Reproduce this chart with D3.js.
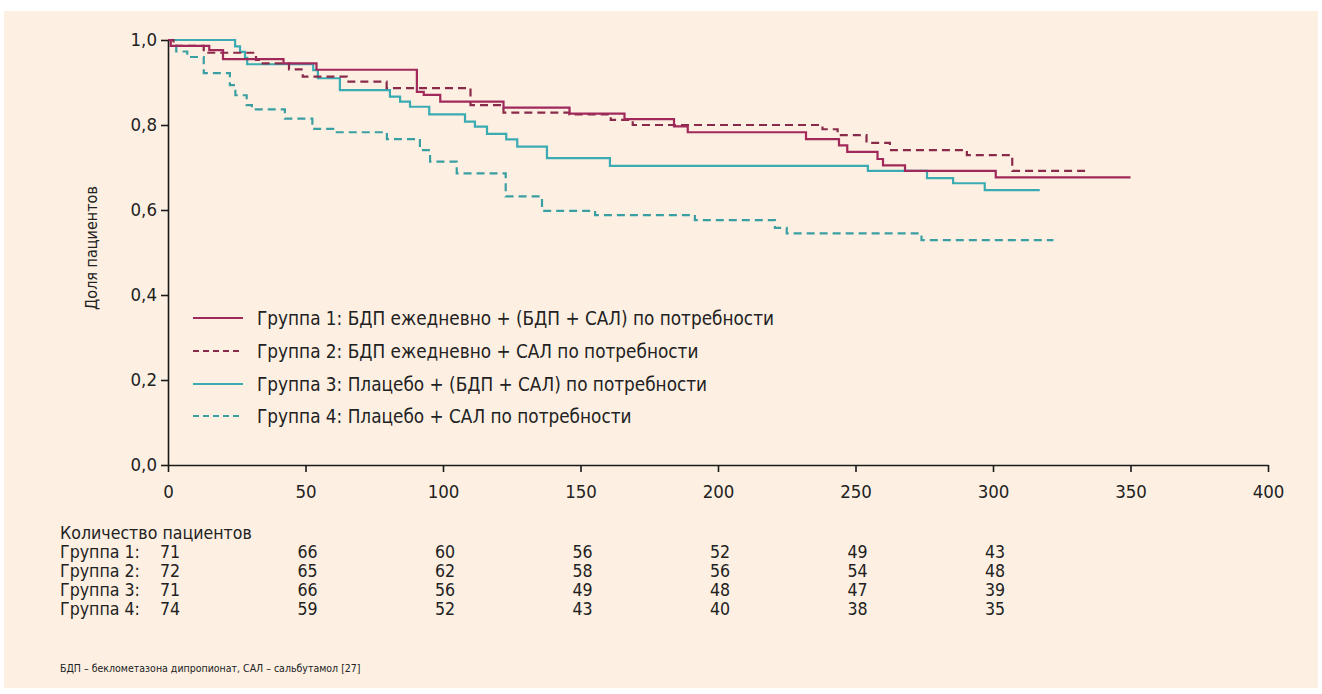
<!DOCTYPE html>
<html><head><meta charset="utf-8">
<script src="https://cdn.jsdelivr.net/npm/d3@7"></script>
<style>
html,body{margin:0;padding:0;background:#fff;}
svg text{font-family:"Liberation Sans Narrow","DejaVu Sans Condensed","Roboto Condensed","Roboto",sans-serif;font-stretch:condensed;fill:#222;}
</style></head>
<body>
<svg id="chart" width="1322" height="694"></svg>
<script>
// ---- data ----
const xTicks = [0, 50, 100, 150, 200, 250, 300, 350, 400];
const yTicks = [0, 0.2, 0.4, 0.6, 0.8, 1.0];

const g1Times = [0, 1, 15, 20, 42, 54, 90.5, 93, 99, 122, 146, 166, 184, 189, 232, 244, 247, 258, 260, 268, 301, 350];
const g1Surv  = [1.0, 0.986, 0.976, 0.955, 0.945, 0.93, 0.878, 0.871, 0.855, 0.841, 0.827, 0.814, 0.797, 0.783, 0.767, 0.752, 0.737, 0.72, 0.705, 0.692, 0.677, 0.677];

const g2Times = [0, 2, 13, 32, 34, 44, 49, 65, 79.5, 110, 122, 146, 161, 169, 238, 243.5, 254, 262.5, 290.5, 307, 333.5];
const g2Surv  = [1.0, 0.986, 0.97, 0.953, 0.945, 0.931, 0.914, 0.902, 0.887, 0.847, 0.829, 0.825, 0.812, 0.8, 0.79, 0.776, 0.758, 0.741, 0.729, 0.692, 0.692];

const g3Times = [0, 24.4, 26.2, 28, 28.8, 52.8, 54.5, 62.5, 80.7, 84.4, 88, 95, 108, 111.6, 116, 123, 127, 137.8, 160.7, 254.5, 276, 285.5, 297, 317];
const g3Surv  = [1.0, 0.985, 0.972, 0.958, 0.943, 0.929, 0.91, 0.882, 0.867, 0.855, 0.843, 0.825, 0.808, 0.796, 0.779, 0.766, 0.749, 0.722, 0.704, 0.692, 0.675, 0.663, 0.647, 0.647];

const g4Times = [0, 3, 7, 13, 22.5, 24.5, 28.6, 30.5, 42.5, 52.5, 61.4, 79.6, 91.6, 95.3, 105, 122.8, 136, 155.3, 191.6, 220.7, 225, 274, 322];
const g4Surv  = [1.0, 0.973, 0.96, 0.922, 0.894, 0.87, 0.847, 0.837, 0.815, 0.791, 0.783, 0.767, 0.741, 0.714, 0.686, 0.632, 0.598, 0.588, 0.576, 0.558, 0.545, 0.529, 0.529];

const groupNames = [
  "Группа 1: БДП ежедневно + (БДП + САЛ) по потребности",
  "Группа 2: БДП ежедневно + САЛ по потребности",
  "Группа 3: Плацебо + (БДП + САЛ) по потребности",
  "Группа 4: Плацебо + САЛ по потребности"
];
const tableTitle = "Количество пациентов";
const tableLabels = ["Группа 1:", "Группа 2:", "Группа 3:", "Группа 4:"];
const tableDays = [0, 50, 100, 150, 200, 250, 300];
const g1Counts = [71, 66, 60, 56, 52, 49, 43];
const g2Counts = [72, 65, 62, 58, 56, 54, 48];
const g3Counts = [71, 66, 56, 49, 48, 47, 39];
const g4Counts = [74, 59, 52, 43, 40, 38, 35];
const yTitle = "Доля пациентов";
const footnote = "БДП – беклометазона дипропионат, САЛ – сальбутамол [27]";

// ---- chart ----
const svg = d3.select("#chart");
svg.append("rect").attr("x", 4).attr("y", 11).attr("width", 1314).attr("height", 677).attr("fill", "#fdf0e2");

const x = d3.scaleLinear().domain([0, 400]).range([168, 1268]);
const y = d3.scaleLinear().domain([0, 1]).range([465, 40]);

const styles = [
  {color: "#a0285a", dash: null, width: 2.2},
  {color: "#8a2a4a", dash: "8,5", width: 2.2},
  {color: "#3aabb2", dash: null, width: 2.2},
  {color: "#3a9fa2", dash: "8,5", width: 2.2}
];
const series = [
  d3.zip(g1Times, g1Surv), d3.zip(g2Times, g2Surv),
  d3.zip(g3Times, g3Surv), d3.zip(g4Times, g4Surv)
];

const line = d3.line().x(d => x(d[0])).y(d => y(d[1])).curve(d3.curveStepAfter);
[3, 2, 1, 0].forEach(i => {
  svg.append("path").datum(series[i]).attr("d", line)
    .attr("fill", "none").attr("stroke", styles[i].color)
    .attr("stroke-width", styles[i].width)
    .attr("stroke-dasharray", styles[i].dash);
});

// axes
const xAxis = svg.append("g").attr("transform", "translate(0,465)")
  .call(d3.axisBottom(x).tickValues(xTicks).tickSize(7).tickSizeOuter(0).tickPadding(13).tickFormat(d => d));
const yAxis = svg.append("g").attr("transform", "translate(168,0)")
  .call(d3.axisLeft(y).tickValues(yTicks).tickSize(7).tickSizeOuter(0).tickPadding(4)
    .tickFormat(d => d.toFixed(1).replace(".", ",")));
[xAxis, yAxis].forEach(a => {
  a.selectAll("path,line").attr("stroke", "#1a1a1a").attr("stroke-width", 1.6);
  a.selectAll("text").attr("font-size", 18.5).attr("fill", "#222").style("font-family", null);
});

svg.append("text").attr("transform", "translate(97,248) rotate(-90)")
  .attr("text-anchor", "middle").attr("font-size", 16).text(yTitle);

// legend
const legY = [318, 351, 384, 416];
groupNames.forEach((name, i) => {
  svg.append("line").attr("x1", 193).attr("x2", 243).attr("y1", legY[i]).attr("y2", legY[i])
    .attr("stroke", styles[i].color).attr("stroke-width", 2)
    .attr("stroke-dasharray", styles[i].dash ? "6,4" : null);
  svg.append("text").attr("x", 257).attr("y", legY[i] + 6.5).attr("font-size", 18.8).text(name);
});

// table
svg.append("text").attr("x", 60).attr("y", 539).attr("font-size", 17.6).text(tableTitle);
const counts = [g1Counts, g2Counts, g3Counts, g4Counts];
const rowY = [552, 571, 590, 609];
tableLabels.forEach((lab, i) => {
  svg.append("text").attr("x", 60).attr("y", rowY[i] + 6).attr("font-size", 17.6).text(lab);
  counts[i].forEach((c, j) => {
    svg.append("text").attr("x", x(tableDays[j]) + 2).attr("y", rowY[i] + 6)
      .attr("text-anchor", "middle").attr("font-size", 17.6).text(c);
  });
});

svg.append("text").attr("x", 60).attr("y", 672).attr("font-size", 10.5).attr("fill", "#333").text(footnote);
</script>
</body></html>
